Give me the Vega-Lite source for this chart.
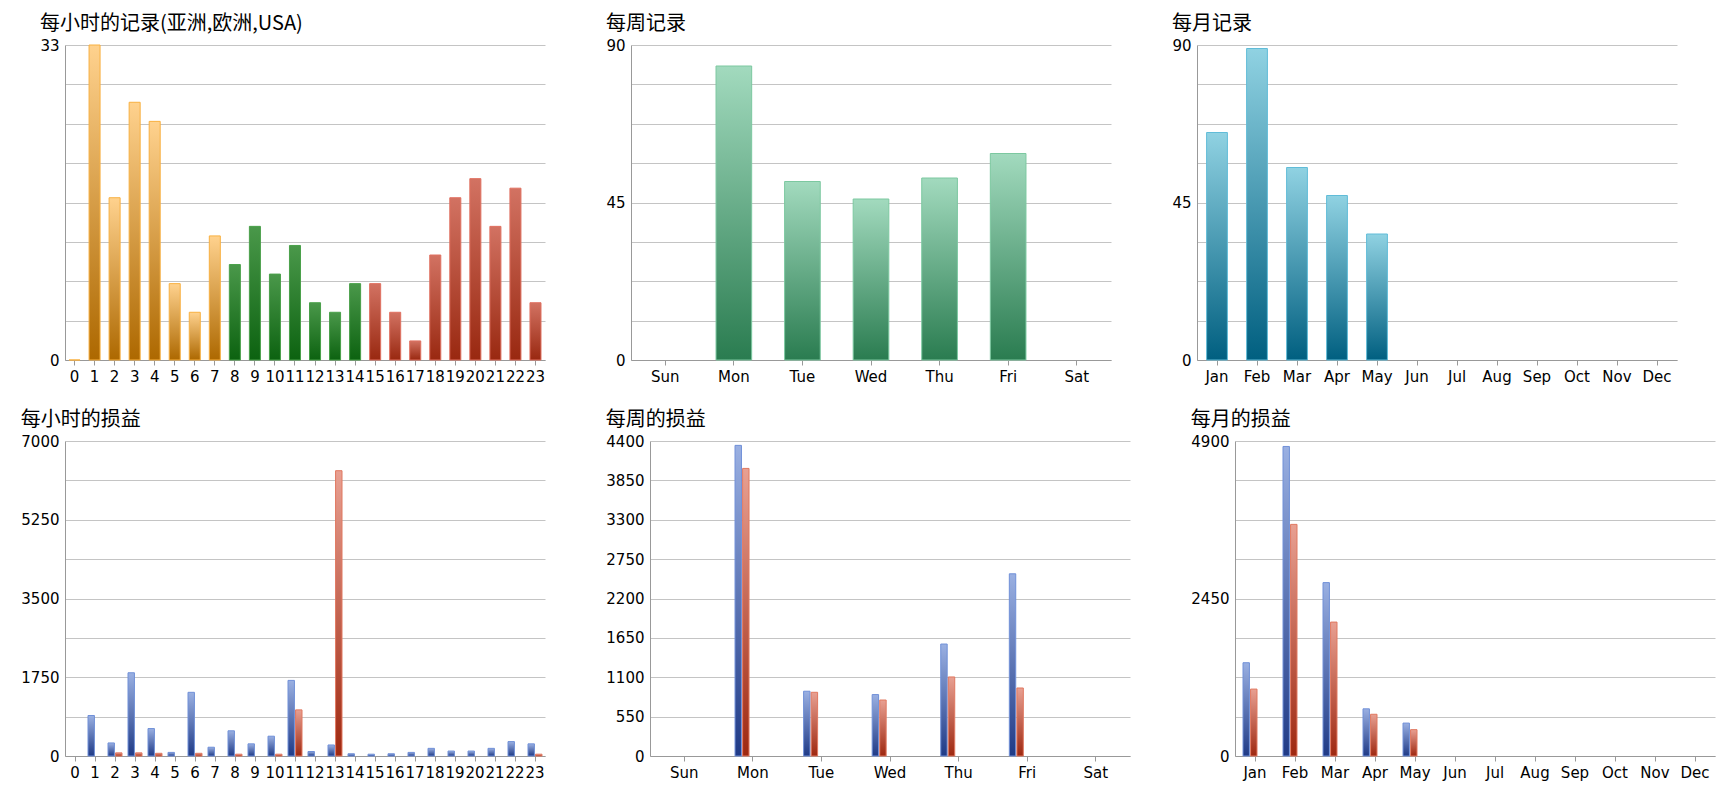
{
"$schema":"https://vega.github.io/schema/vega-lite/v6.json",
"background":"white",
"padding":{"left":20,"top":14,"right":5,"bottom":5},
"config":{"view":{"stroke":null},"font":"DejaVu Sans",
 "title":{"anchor":"start","fontSize":20,"fontWeight":"normal","font":"Noto Sans CJK SC","color":"#000","offset":4},
 "axis":{"labelFont":"DejaVu Sans","labelFontSize":15,"labelColor":"#000","title":null,"domainColor":"#999","tickColor":"#999","gridColor":"#c4c4c4"},
 "axisX":{"labelAngle":0,"grid":false,"ticks":true,"labelPadding":4},
 "axisY":{"domain":true,"ticks":false,"labelPadding":6}},
"datasets":{
 "hr":[{"h":"0","v":0,"g":"a"},{"h":"1","v":33,"g":"a"},{"h":"2","v":17,"g":"a"},{"h":"3","v":27,"g":"a"},{"h":"4","v":25,"g":"a"},{"h":"5","v":8,"g":"a"},{"h":"6","v":5,"g":"a"},{"h":"7","v":13,"g":"a"},{"h":"8","v":10,"g":"e"},{"h":"9","v":14,"g":"e"},{"h":"10","v":9,"g":"e"},{"h":"11","v":12,"g":"e"},{"h":"12","v":6,"g":"e"},{"h":"13","v":5,"g":"e"},{"h":"14","v":8,"g":"e"},{"h":"15","v":8,"g":"u"},{"h":"16","v":5,"g":"u"},{"h":"17","v":2,"g":"u"},{"h":"18","v":11,"g":"u"},{"h":"19","v":17,"g":"u"},{"h":"20","v":19,"g":"u"},{"h":"21","v":14,"g":"u"},{"h":"22","v":18,"g":"u"},{"h":"23","v":6,"g":"u"}],
 "wk":[{"d":"Mon","v":84},{"d":"Tue","v":51},{"d":"Wed","v":46},{"d":"Thu","v":52},{"d":"Fri","v":59}],
 "mo":[{"m":"Jan","v":65},{"m":"Feb","v":89},{"m":"Mar","v":55},{"m":"Apr","v":47},{"m":"May","v":36}],
 "hl":[{"h":"1","s":"a","v":900},{"h":"2","s":"a","v":290},{"h":"2","s":"b","v":70},{"h":"3","s":"a","v":1850},{"h":"3","s":"b","v":70},{"h":"4","s":"a","v":610},{"h":"4","s":"b","v":60},{"h":"5","s":"a","v":80},{"h":"6","s":"a","v":1415},{"h":"6","s":"b","v":60},{"h":"7","s":"a","v":195},{"h":"8","s":"a","v":560},{"h":"8","s":"b","v":40},{"h":"9","s":"a","v":270},{"h":"10","s":"a","v":440},{"h":"10","s":"b","v":40},{"h":"11","s":"a","v":1680},{"h":"11","s":"b","v":1025},{"h":"12","s":"a","v":100},{"h":"13","s":"a","v":245},{"h":"13","s":"b","v":6340},{"h":"14","s":"a","v":50},{"h":"15","s":"a","v":40},{"h":"16","s":"a","v":50},{"h":"17","s":"a","v":80},{"h":"18","s":"a","v":170},{"h":"19","s":"a","v":110},{"h":"20","s":"a","v":110},{"h":"21","s":"a","v":170},{"h":"22","s":"a","v":320},{"h":"23","s":"a","v":270},{"h":"23","s":"b","v":40}],
 "wl":[{"d":"Mon","s":"a","v":4339},{"d":"Mon","s":"b","v":4017},{"d":"Tue","s":"a","v":905},{"d":"Tue","s":"b","v":890},{"d":"Wed","s":"a","v":858},{"d":"Wed","s":"b","v":782},{"d":"Thu","s":"a","v":1564},{"d":"Thu","s":"b","v":1104},{"d":"Fri","s":"a","v":2545},{"d":"Fri","s":"b","v":950}],
 "ml":[{"m":"Jan","s":"a","v":1451},{"m":"Jan","s":"b","v":1041},{"m":"Feb","s":"a","v":4815},{"m":"Feb","s":"b","v":3603},{"m":"Mar","s":"a","v":2697},{"m":"Mar","s":"b","v":2083},{"m":"Apr","s":"a","v":734},{"m":"Apr","s":"b","v":649},{"m":"May","s":"a","v":512},{"m":"May","s":"b","v":410}]
},
"vconcat":[{"hconcat":[
 {"title":"每小时的记录(亚洲,欧洲,USA)","width":480,"height":315,"data":{"name":"hr"},
  "encoding":{"x":{"field":"h","type":"ordinal","sort":null,"scale":{"paddingInner":0.45,"paddingOuter":0.2}},
   "y":{"field":"v","type":"quantitative","scale":{"domain":[0,33],"nice":false},"axis":{"values":[0,4.125,8.25,12.375,16.5,20.625,24.75,28.875,33],"labelExpr":"datum.value==0||datum.value==33?datum.label:''"}}},
  "layer":[
   {"transform":[{"filter":"datum.g=='a'"}],"mark":{"type":"bar","stroke":"#f8b040","strokeWidth":1,"color":{"gradient":"linear","x1":0,"y1":0,"x2":0,"y2":1,"stops":[{"offset":0,"color":"#ffd28e"},{"offset":1,"color":"#ad6800"}]}}},
   {"transform":[{"filter":"datum.g=='e'"}],"mark":{"type":"bar","stroke":"#4aa04a","strokeWidth":1,"color":{"gradient":"linear","x1":0,"y1":0,"x2":0,"y2":1,"stops":[{"offset":0,"color":"#4a984a"},{"offset":1,"color":"#0c6210"}]}}},
   {"transform":[{"filter":"datum.g=='u'"}],"mark":{"type":"bar","stroke":"#e07060","strokeWidth":1,"color":{"gradient":"linear","x1":0,"y1":0,"x2":0,"y2":1,"stops":[{"offset":0,"color":"#d27262"},{"offset":1,"color":"#992810"}]}}}
  ]},
 {"title":"每周记录","width":480,"height":315,"data":{"name":"wk"},
  "mark":{"type":"bar","stroke":"#7cc8a0","strokeWidth":1,"color":{"gradient":"linear","x1":0,"y1":0,"x2":0,"y2":1,"stops":[{"offset":0,"color":"#a2dabe"},{"offset":1,"color":"#2a7c50"}]}},
  "encoding":{"x":{"field":"d","type":"ordinal","scale":{"domain":["Sun","Mon","Tue","Wed","Thu","Fri","Sat"],"paddingInner":0.48,"paddingOuter":0.24}},
   "y":{"field":"v","type":"quantitative","scale":{"domain":[0,90],"nice":false},"axis":{"values":[0,11.25,22.5,33.75,45,56.25,67.5,78.75,90],"labelExpr":"datum.value%45==0?datum.label:''"}}}},
 {"title":"每月记录","width":480,"height":315,"data":{"name":"mo"},
  "mark":{"type":"bar","stroke":"#60bcd8","strokeWidth":1,"color":{"gradient":"linear","x1":0,"y1":0,"x2":0,"y2":1,"stops":[{"offset":0,"color":"#90d2e2"},{"offset":1,"color":"#005f80"}]}},
  "encoding":{"x":{"field":"m","type":"ordinal","scale":{"domain":["Jan","Feb","Mar","Apr","May","Jun","Jul","Aug","Sep","Oct","Nov","Dec"],"paddingInner":0.48,"paddingOuter":0.24}},
   "y":{"field":"v","type":"quantitative","scale":{"domain":[0,90],"nice":false},"axis":{"values":[0,11.25,22.5,33.75,45,56.25,67.5,78.75,90],"labelExpr":"datum.value%45==0?datum.label:''"}}}}
 ],"spacing":60},
 {"hconcat":[
 {"title":"每小时的损益","width":480,"height":315,"data":{"name":"hl"},
  "encoding":{"x":{"field":"h","type":"ordinal","scale":{"domain":["0","1","2","3","4","5","6","7","8","9","10","11","12","13","14","15","16","17","18","19","20","21","22","23"],"paddingInner":0.3,"paddingOuter":0.15}},
   "xOffset":{"field":"s","scale":{"domain":["a","b"],"paddingInner":0.15,"paddingOuter":0}},
   "y":{"field":"v","type":"quantitative","scale":{"domain":[0,7000],"nice":false},"axis":{"values":[0,875,1750,2625,3500,4375,5250,6125,7000],"labelExpr":"datum.value%1750==0?datum.label:''","format":"d"}}},
  "layer":[
   {"transform":[{"filter":"datum.s=='a'"}],"mark":{"type":"bar","stroke":"#7090d8","strokeWidth":1,"color":{"gradient":"linear","x1":0,"y1":0,"x2":0,"y2":1,"stops":[{"offset":0,"color":"#9ab0e2"},{"offset":1,"color":"#1f3a86"}]}}},
   {"transform":[{"filter":"datum.s=='b'"}],"mark":{"type":"bar","stroke":"#e07860","strokeWidth":1,"color":{"gradient":"linear","x1":0,"y1":0,"x2":0,"y2":1,"stops":[{"offset":0,"color":"#e8a092"},{"offset":1,"color":"#9e2810"}]}}}
  ]},
 {"title":"每周的损益","width":480,"height":315,"data":{"name":"wl"},
  "encoding":{"x":{"field":"d","type":"ordinal","scale":{"domain":["Sun","Mon","Tue","Wed","Thu","Fri","Sat"],"paddingInner":0.48,"paddingOuter":0.24}},
   "xOffset":{"field":"s","scale":{"domain":["a","b"],"paddingInner":0,"paddingOuter":0}},
   "y":{"field":"v","type":"quantitative","scale":{"domain":[0,4400],"nice":false},"axis":{"values":[0,550,1100,1650,2200,2750,3300,3850,4400],"format":"d"}}},
  "layer":[
   {"transform":[{"filter":"datum.s=='a'"}],"mark":{"type":"bar","stroke":"#7090d8","strokeWidth":1,"color":{"gradient":"linear","x1":0,"y1":0,"x2":0,"y2":1,"stops":[{"offset":0,"color":"#9ab0e2"},{"offset":1,"color":"#1f3a86"}]}}},
   {"transform":[{"filter":"datum.s=='b'"}],"mark":{"type":"bar","stroke":"#e07860","strokeWidth":1,"color":{"gradient":"linear","x1":0,"y1":0,"x2":0,"y2":1,"stops":[{"offset":0,"color":"#e8a092"},{"offset":1,"color":"#9e2810"}]}}}
  ]},
 {"title":"每月的损益","width":480,"height":315,"data":{"name":"ml"},
  "encoding":{"x":{"field":"m","type":"ordinal","scale":{"domain":["Jan","Feb","Mar","Apr","May","Jun","Jul","Aug","Sep","Oct","Nov","Dec"],"paddingInner":0.4,"paddingOuter":0.2}},
   "xOffset":{"field":"s","scale":{"domain":["a","b"],"paddingInner":0,"paddingOuter":0}},
   "y":{"field":"v","type":"quantitative","scale":{"domain":[0,4900],"nice":false},"axis":{"values":[0,612.5,1225,1837.5,2450,3062.5,3675,4287.5,4900],"labelExpr":"datum.value%2450==0?datum.label:''","format":"d"}}},
  "layer":[
   {"transform":[{"filter":"datum.s=='a'"}],"mark":{"type":"bar","stroke":"#7090d8","strokeWidth":1,"color":{"gradient":"linear","x1":0,"y1":0,"x2":0,"y2":1,"stops":[{"offset":0,"color":"#9ab0e2"},{"offset":1,"color":"#1f3a86"}]}}},
   {"transform":[{"filter":"datum.s=='b'"}],"mark":{"type":"bar","stroke":"#e07860","strokeWidth":1,"color":{"gradient":"linear","x1":0,"y1":0,"x2":0,"y2":1,"stops":[{"offset":0,"color":"#e8a092"},{"offset":1,"color":"#9e2810"}]}}}
  ]}
 ],"spacing":60}
],"spacing":26
}
